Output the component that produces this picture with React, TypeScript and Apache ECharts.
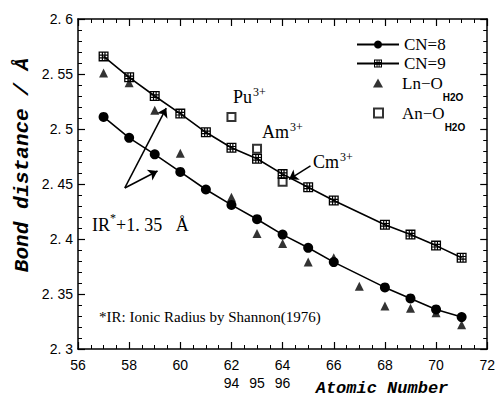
import React, { useEffect, useRef } from "react";
import * as echarts from "echarts";

// ---- data ----
const cnX = [57, 58, 59, 60, 61, 62, 63, 64, 65, 66, 68, 69, 70, 71];
const cn8Y = [2.511, 2.492, 2.477, 2.461, 2.445, 2.431, 2.418, 2.404, 2.392, 2.379, 2.356, 2.346, 2.336, 2.329];
const cn9Y = [2.566, 2.547, 2.530, 2.514, 2.497, 2.483, 2.473, 2.459, 2.447, 2.435, 2.413, 2.404, 2.394, 2.383];
const lnX = [57, 58, 59, 60, 62, 63, 64, 65, 66, 67, 68, 69, 70, 71];
const lnY = [2.551, 2.542, 2.517, 2.478, 2.438, 2.405, 2.396, 2.379, 2.383, 2.357, 2.339, 2.337, 2.333, 2.322];
const anX = [62, 63, 64];
const anY = [2.511, 2.482, 2.452];
const anNames = ["Pu", "Am", "Cm"];
const anAtomic = ["94", "95", "96"];
const seriesNames = ["CN=8", "CN=9", "Ln-O", "An-O"];
// arrows (data coords): [fromX, fromY, toX, toY]
const arrows = [
  [65.09, 2.4664, 64.25, 2.4543],
  [57.83, 2.4464, 59.45, 2.519],
  [57.83, 2.4464, 59.11, 2.4618],
];
const xMin = 56, xMax = 72, xStep = 2;
const yMin = 2.3, yMax = 2.6, yStep = 0.05;

const gridSym =
  "path://" +
  [
    "M0,0H10V1.3H0Z",
    "M0,8.7H10V10H0Z",
    "M0,0H1.3V10H0Z",
    "M8.7,0H10V10H8.7Z",
    "M3.2,0H4.4V10H3.2Z",
    "M5.8,0H7V10H5.8Z",
    "M0,3.2H10V4.4H0Z",
    "M0,5.8H10V7H0Z",
  ].join(" ");

const NB = "\u00a0";
const pair = (xs: number[], ys: number[]) => xs.map((x, i) => [x, ys[i]]);

export default function App() {
  const ref = useRef<HTMLDivElement>(null);
  useEffect(() => {
    if (!ref.current) return;
    const chart = echarts.init(ref.current, null, { renderer: "svg" });
    const lblFont = { fontFamily: "Liberation Sans", fontSize: 14, color: "#000" };
    const axLine = { show: true, lineStyle: { color: "#000", width: 1.5 } };
    const tick = { show: true, inside: true, length: 7, lineStyle: { color: "#000", width: 1.2 } };
    const mXTick = { show: true, splitNumber: 4, length: 4, lineStyle: { color: "#000", width: 1 } };
    const mYTick = { show: true, splitNumber: 5, length: 4, lineStyle: { color: "#000", width: 1 } };
    const supText = (name: string, left: number, top: number) => ({
      type: "text",
      left,
      top,
      style: {
        text: `{m|${name}}{s|3+}`,
        rich: {
          m: { fontFamily: "Liberation Serif", fontSize: 18, lineHeight: 20, verticalAlign: "bottom", fill: "#000" },
          s: { fontFamily: "Liberation Serif", fontSize: 12, lineHeight: 12, verticalAlign: "top", fill: "#000", padding: [0, 0, 14, 1] },
        },
      },
    });
    const subRich = {
      m: { fontFamily: "Liberation Serif", fontSize: 17, lineHeight: 38, verticalAlign: "middle", color: "#000", padding: [0, 0, 0, 14] },
      s: { fontFamily: "Liberation Sans", fontWeight: "bold", fontSize: 10, lineHeight: 10, verticalAlign: "top", color: "#000", padding: [28, 0, 0, 0] },
    };
    chart.setOption({
      animation: false,
      backgroundColor: "#fff",
      grid: { left: 78, right: 9, top: 19, bottom: 49 },
      legend: [
        {
          data: [seriesNames[0], seriesNames[1]],
          orient: "vertical",
          left: 356,
          top: 35,
          padding: 0,
          itemGap: 0,
          itemWidth: 42,
          itemHeight: 10,
          textStyle: { fontFamily: "Liberation Serif", fontSize: 17, lineHeight: 19, color: "#000" },
        },
        {
          data: [seriesNames[2]],
          orient: "vertical",
          left: 373,
          top: 64,
          padding: 0,
          itemWidth: 10,
          itemHeight: 9,
          formatter: () => "{m|Ln−O}{s|H2O}",
          textStyle: { rich: subRich },
        },
        {
          data: [seriesNames[3]],
          orient: "vertical",
          left: 373,
          top: 94,
          padding: 0,
          itemWidth: 9,
          itemHeight: 9,
          formatter: () => "{m|An−O}{s|H2O}",
          textStyle: { rich: subRich },
        },
      ],
      xAxis: [
        {
          type: "value",
          min: xMin,
          max: xMax,
          interval: xStep,
          position: "bottom",
          axisLine: axLine,
          axisTick: tick,
          minorTick: mXTick,
          splitLine: { show: false },
          axisLabel: { ...lblFont, margin: 9 },
        },
        {
          type: "value",
          min: xMin,
          max: xMax,
          interval: 1,
          position: "bottom",
          offset: 18,
          axisLine: { show: false },
          axisTick: { show: false },
          splitLine: { show: false },
          axisLabel: {
            ...lblFont,
            margin: 9,
            formatter: (v: number) => {
              const i = anX.indexOf(v);
              return i >= 0 ? anAtomic[i] : "";
            },
          },
        },
        {
          type: "value",
          min: xMin,
          max: xMax,
          interval: xStep,
          position: "top",
          axisLine: axLine,
          axisTick: tick,
          minorTick: mXTick,
          splitLine: { show: false },
          axisLabel: { show: false },
        },
      ],
      yAxis: [
        {
          type: "value",
          min: yMin,
          max: yMax,
          interval: yStep,
          position: "left",
          axisLine: axLine,
          axisTick: tick,
          minorTick: mYTick,
          splitLine: { show: false },
          axisLabel: {
            ...lblFont,
            margin: 5,
            formatter: (v: number) => String(parseFloat(v.toFixed(2))).replace(".", "." + NB),
          },
        },
        {
          type: "value",
          min: yMin,
          max: yMax,
          interval: yStep,
          position: "right",
          axisLine: axLine,
          axisTick: tick,
          minorTick: mYTick,
          splitLine: { show: false },
          axisLabel: { show: false },
        },
      ],
      series: [
        {
          name: seriesNames[0],
          type: "line",
          data: pair(cnX, cn8Y),
          symbol: "circle",
          symbolSize: 10,
          itemStyle: { color: "#000" },
          lineStyle: { color: "#000", width: 1.6 },
        },
        {
          name: seriesNames[1],
          type: "line",
          data: pair(cnX, cn9Y),
          symbol: gridSym,
          symbolSize: 10,
          itemStyle: { color: "#000" },
          lineStyle: { color: "#000", width: 1.6 },
        },
        {
          name: seriesNames[2],
          type: "scatter",
          data: pair(lnX, lnY),
          symbol: "triangle",
          symbolSize: 9,
          itemStyle: { color: "#000" },
        },
        {
          name: seriesNames[3],
          type: "scatter",
          data: pair(anX, anY),
          symbol: "emptyRect",
          symbolSize: 8,
          itemStyle: { color: "#000", borderColor: "#000", borderWidth: 1.5 },
          markLine: {
            silent: true,
            symbol: ["none", "arrow"],
            symbolSize: 9,
            label: { show: false },
            lineStyle: { color: "#000", width: 1.5, type: "solid" },
            data: arrows.map((a) => [{ coord: [a[0], a[1]] }, { coord: [a[2], a[3]] }]),
          },
        },
      ],
      graphic: [
        supText(anNames[0], 233, 86),
        supText(anNames[1], 262, 121),
        supText(anNames[2], 313, 151),
        {
          type: "text",
          left: 92,
          top: 212,
          style: {
            text: `{m|IR}{s|*}{m|+1.${NB}35${NB}${NB}${NB}Å}`,
            rich: {
              m: { fontFamily: "Liberation Serif", fontSize: 18, lineHeight: 22, verticalAlign: "bottom", fill: "#000" },
              s: { fontFamily: "Liberation Serif", fontSize: 12, lineHeight: 12, verticalAlign: "top", fill: "#000", padding: [0, 0, 10, 0] },
            },
          },
        },
        {
          type: "text",
          left: 99,
          top: 309,
          style: { text: "*IR: Ionic Radius by Shannon(1976)", fontFamily: "Liberation Serif", fontSize: 15, fill: "#000" },
        },
        {
          type: "text",
          x: 22,
          y: 165,
          rotation: Math.PI / 2,
          style: {
            text: "Bond distance / Å",
            fontFamily: "Liberation Mono",
            fontStyle: "italic",
            fontWeight: "bold",
            fontSize: 21,
            fill: "#000",
            align: "center",
            verticalAlign: "middle",
          },
        },
        {
          type: "text",
          x: 382,
          y: 388,
          style: {
            text: "Atomic Number",
            fontFamily: "Liberation Mono",
            fontStyle: "italic",
            fontWeight: "bold",
            fontSize: 17,
            fill: "#000",
            align: "center",
            verticalAlign: "middle",
          },
        },
      ],
    });
    return () => chart.dispose();
  }, []);
  return <div ref={ref} style={{ width: 498, height: 398, position: "absolute", left: 0, top: 0 }} />;
}
